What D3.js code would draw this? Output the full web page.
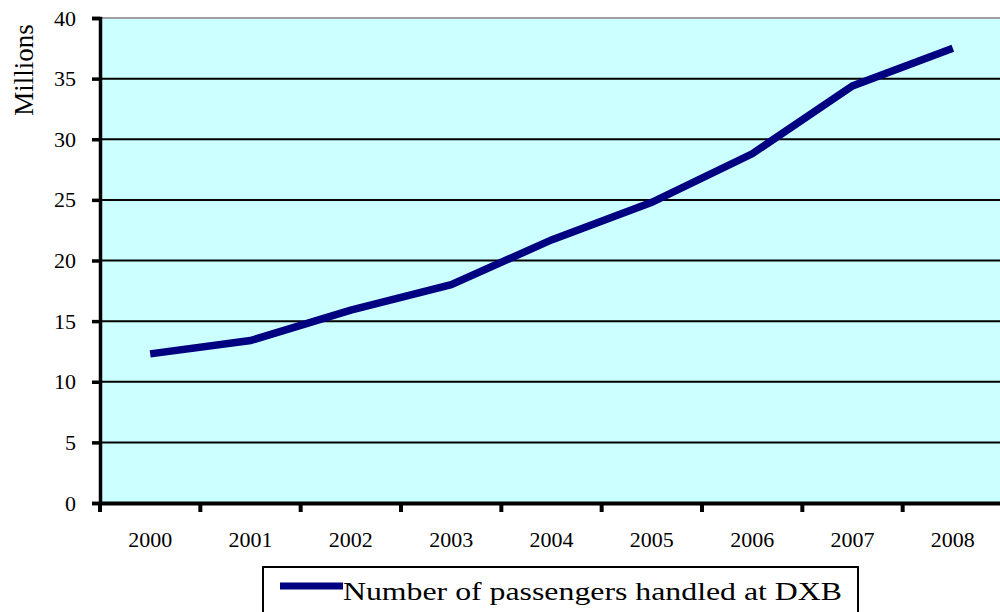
<!DOCTYPE html>
<html>
<head>
<meta charset="utf-8">
<script src="https://cdn.jsdelivr.net/npm/d3@7"></script>
<style>
  html, body { margin: 0; padding: 0; background: #fff; }
  svg text { font-family: 'Liberation Serif', 'Times New Roman', Times, 'DejaVu Serif', serif !important; }
</style>
</head>
<body>
<svg width="1000" height="612"></svg>
<script>
(function (d3) {
  'use strict';

  const years = ['2000', '2001', '2002', '2003', '2004', '2005', '2006', '2007', '2008'];
  const passengers = [12.3, 13.4, 15.9, 18.0, 21.7, 24.8, 28.8, 34.4, 37.5];
  const yTicks = [0, 5, 10, 15, 20, 25, 30, 35, 40];
  const seriesName = 'Number of passengers handled at DXB';

  const svg = d3.select('svg');
  const margin = { top: 18, right: -3, bottom: 109, left: 100 };
  const width = 1000, height = 612;
  const innerWidth = width - margin.left - margin.right;
  const innerHeight = height - margin.top - margin.bottom;

  const x = d3.scaleBand().domain(years).range([0, innerWidth]);
  const y = d3.scaleLinear().domain([0, 40]).range([innerHeight, 0]);

  const g = svg.append('g')
      .attr('transform', `translate(${margin.left},${margin.top})`);

  // plot background
  g.append('rect')
      .attr('width', innerWidth)
      .attr('height', innerHeight)
      .attr('fill', '#ccffff');
  g.append('line')
      .attr('x1', 0).attr('x2', innerWidth)
      .attr('y1', 0).attr('y2', 0)
      .attr('stroke', '#a0a0a0').attr('stroke-width', 2);

  // gridlines
  g.selectAll('.grid').data(yTicks.filter(t => t > 0 && t < 40))
    .enter().append('line')
      .attr('x1', 0).attr('x2', innerWidth)
      .attr('y1', d => y(d)).attr('y2', d => y(d))
      .attr('stroke', '#000').attr('stroke-width', 2);

  // y axis
  const yAxis = g.append('g')
      .call(d3.axisLeft(y).tickValues(yTicks).tickSize(8).tickPadding(16));
  yAxis.select('.domain').attr('stroke-width', 3.5);
  yAxis.selectAll('.tick line').attr('stroke-width', 3.5);
  yAxis.selectAll('text').attr('font-size', 22).attr('fill', '#000');

  // x axis
  const xAxis = g.append('g')
      .attr('transform', `translate(0,${innerHeight})`)
      .call(d3.axisBottom(x).tickSize(0).tickPadding(28));
  xAxis.select('.domain').attr('stroke-width', 4);
  xAxis.selectAll('text').attr('font-size', 22).attr('fill', '#000');
  xAxis.selectAll('.bound').data(years)
    .enter().append('line')
      .attr('x1', d => x(d)).attr('x2', d => x(d))
      .attr('y1', 0).attr('y2', 9)
      .attr('stroke', '#000').attr('stroke-width', 4);

  // line
  const line = d3.line()
      .x((d, i) => x(years[i]) + x.bandwidth() / 2)
      .y(d => y(d));
  g.append('path')
      .datum(passengers)
      .attr('d', line)
      .attr('fill', 'none')
      .attr('stroke', '#000080')
      .attr('stroke-width', 7.5);

  // y axis title
  svg.append('text')
      .attr('transform', 'translate(33,70) rotate(-90)')
      .attr('text-anchor', 'middle')
      .attr('font-size', 27)
      .text('Millions');

  // legend
  const legend = svg.append('g').attr('transform', 'translate(263,567)');
  legend.append('rect')
      .attr('width', 595).attr('height', 50)
      .attr('fill', '#fff').attr('stroke', '#000').attr('stroke-width', 2);
  legend.append('line')
      .attr('x1', 17).attr('x2', 80)
      .attr('y1', 19).attr('y2', 19)
      .attr('stroke', '#000080').attr('stroke-width', 7);
  legend.append('text')
      .attr('x', 80).attr('y', 33)
      .attr('font-size', 25)
      .attr('textLength', 499)
      .attr('lengthAdjust', 'spacingAndGlyphs')
      .text(seriesName);

}(d3));
</script>
</body>
</html>
